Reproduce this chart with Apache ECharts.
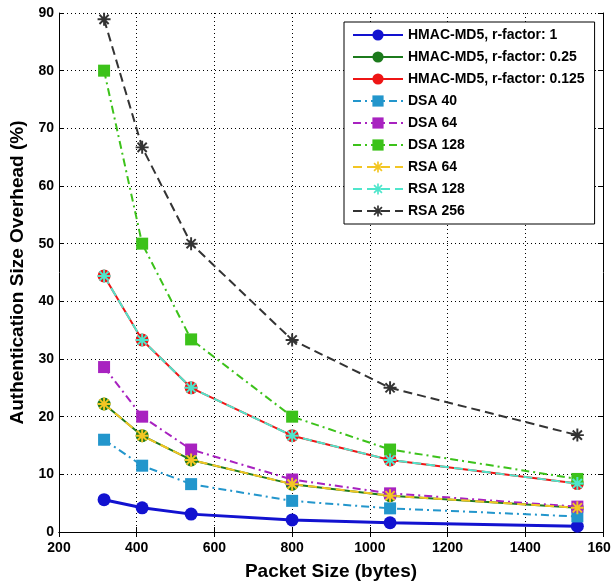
<!DOCTYPE html>
<html>
<head>
<meta charset="utf-8">
<script src="https://cdn.jsdelivr.net/npm/echarts@6/dist/echarts.min.js"></script>
<style>
  html, body { margin: 0; padding: 0; background: #fff; }
  #main { width: 611px; height: 582px; }
</style>
</head>
<body>
<div id="main"></div>
<script>
// packet sizes (bytes) on the x axis
var packetSize = [316, 414, 540, 800, 1052, 1534];

// overhead (%) per scheme
var hmacR1 = [5.6, 4.2, 3.1, 2.1, 1.6, 1.0];
var hmacR025 = [22.2, 16.7, 12.5, 8.3, 6.3, 4.2];
var hmacR0125 = [44.4, 33.3, 25.0, 16.7, 12.5, 8.4];
var dsa40 = [16.0, 11.5, 8.3, 5.4, 4.1, 2.7];
var dsa64 = [28.6, 20.0, 14.3, 9.1, 6.7, 4.4];
var dsa128 = [80.0, 50.0, 33.4, 20.0, 14.3, 9.2];
var rsa64 = [22.2, 16.7, 12.5, 8.3, 6.3, 4.2];
var rsa128 = [44.4, 33.3, 25.0, 16.7, 12.5, 8.4];
var rsa256 = [88.9, 66.7, 50.0, 33.3, 25.0, 16.8];

var names = ['HMAC-MD5, r-factor: 1', 'HMAC-MD5, r-factor: 0.25', 'HMAC-MD5, r-factor: 0.125',
             'DSA 40', 'DSA 64', 'DSA 128', 'RSA 64', 'RSA 128', 'RSA 256'];

function pairs(ys) {
    var out = [];
    for (var i = 0; i < ys.length; i++) out.push([packetSize[i], ys[i]]);
    return out;
}

// asterisk marker: four bars (horizontal, vertical, two diagonals)
var asterisk = 'path://M-10 -1.5 L10 -1.5 L10 1.5 L-10 1.5 Z ' +
    'M-1.5 -10 L1.5 -10 L1.5 10 L-1.5 10 Z ' +
    'M-6.01 -8.13 L8.13 6.01 L6.01 8.13 L-8.13 -6.01 Z ' +
    'M-8.13 6.01 L6.01 -8.13 L8.13 -6.01 L-6.01 8.13 Z';
var dashDot = [8, 4, 2, 4];
var dashed = [9, 5];

function line(name, data, color, symbol, size, dash, width) {
    return {
        name: name,
        type: 'line',
        data: pairs(data),
        symbol: symbol,
        symbolSize: size,
        showAllSymbol: true,
        itemStyle: { color: color },
        lineStyle: { color: color, width: width || 2, type: dash },
        emphasis: { disabled: true }
    };
}

var fontFam = '"Liberation Sans", Arial, sans-serif';
var myChart = echarts.init(document.getElementById('main'));

var option = {
    backgroundColor: '#ffffff',
    animation: false,
    textStyle: { fontFamily: fontFam },
    grid: { left: 59, right: 8, top: 13, bottom: 50, outerBoundsMode: 'none', containLabel: false },
    legend: {
        orient: 'vertical',
        left: 344,
        top: 22,
        data: names,
        itemWidth: 50,
        itemHeight: 14,
        itemGap: 8,
        padding: [6, 10, 6, 8],
        backgroundColor: '#ffffff',
        borderColor: '#000000',
        borderWidth: 1,
        textStyle: { color: '#000', fontWeight: 'bold', fontSize: 14, fontFamily: fontFam }
    },
    xAxis: [
        {
            type: 'value',
            min: 200, max: 1600, interval: 200,
            name: 'Packet Size (bytes)',
            nameLocation: 'middle',
            nameGap: 30,
            nameTextStyle: { color: '#000', fontWeight: 'bold', fontSize: 19 },
            axisLine: { lineStyle: { color: '#000', width: 1 } },
            axisTick: { inside: true, length: 5, lineStyle: { color: '#000' } },
            axisLabel: {
                color: '#000', fontWeight: 'bold', fontSize: 14, margin: 9,
                showMaxLabel: true,
                formatter: function (v) { return String(v); }
            },
            splitLine: { show: true, lineStyle: { color: '#000', type: [1, 3], width: 1 } }
        },
        {
            type: 'value',
            position: 'top',
            min: 200, max: 1600, interval: 200,
            axisLine: { lineStyle: { color: '#000', width: 1 } },
            axisTick: { inside: true, length: 5, lineStyle: { color: '#000' } },
            axisLabel: { show: false },
            splitLine: { show: false }
        }
    ],
    yAxis: [
        {
            type: 'value',
            min: 0, max: 90, interval: 10,
            name: 'Authentication Size Overhead (%)',
            nameLocation: 'middle',
            nameRotate: 90,
            nameGap: 30,
            nameTextStyle: { color: '#000', fontWeight: 'bold', fontSize: 19 },
            axisLine: { show: true, lineStyle: { color: '#000', width: 1 } },
            axisTick: { show: true, inside: true, length: 5, lineStyle: { color: '#000' } },
            axisLabel: { color: '#000', fontWeight: 'bold', fontSize: 14, margin: 5 },
            splitLine: { show: true, lineStyle: { color: '#000', type: [1, 3], width: 1 } }
        },
        {
            type: 'value',
            position: 'right',
            min: 0, max: 90, interval: 10,
            axisLine: { show: true, lineStyle: { color: '#000', width: 1 } },
            axisTick: { show: true, inside: true, length: 5, lineStyle: { color: '#000' } },
            axisLabel: { show: false },
            splitLine: { show: false }
        }
    ],
    series: [
        line(names[0], hmacR1, '#1212d0', 'circle', 13, 'solid', 3),
        line(names[1], hmacR025, '#1c7a1c', 'circle', 13, 'solid'),
        line(names[2], hmacR0125, '#ee1515', 'circle', 13, 'solid'),
        line(names[3], dsa40, '#2396cc', 'rect', 12, dashDot),
        line(names[4], dsa64, '#a822c0', 'rect', 12, dashDot),
        line(names[5], dsa128, '#3cc21a', 'rect', 12, dashDot),
        line(names[6], rsa64, '#f3c623', asterisk, 13, dashed),
        line(names[7], rsa128, '#4fe6cc', asterisk, 13, dashed),
        line(names[8], rsa256, '#333333', asterisk, 13, dashed)
    ]
};

if (option && typeof option === "object") {
    myChart.setOption(option, true);
}
</script>
</body>
</html>
